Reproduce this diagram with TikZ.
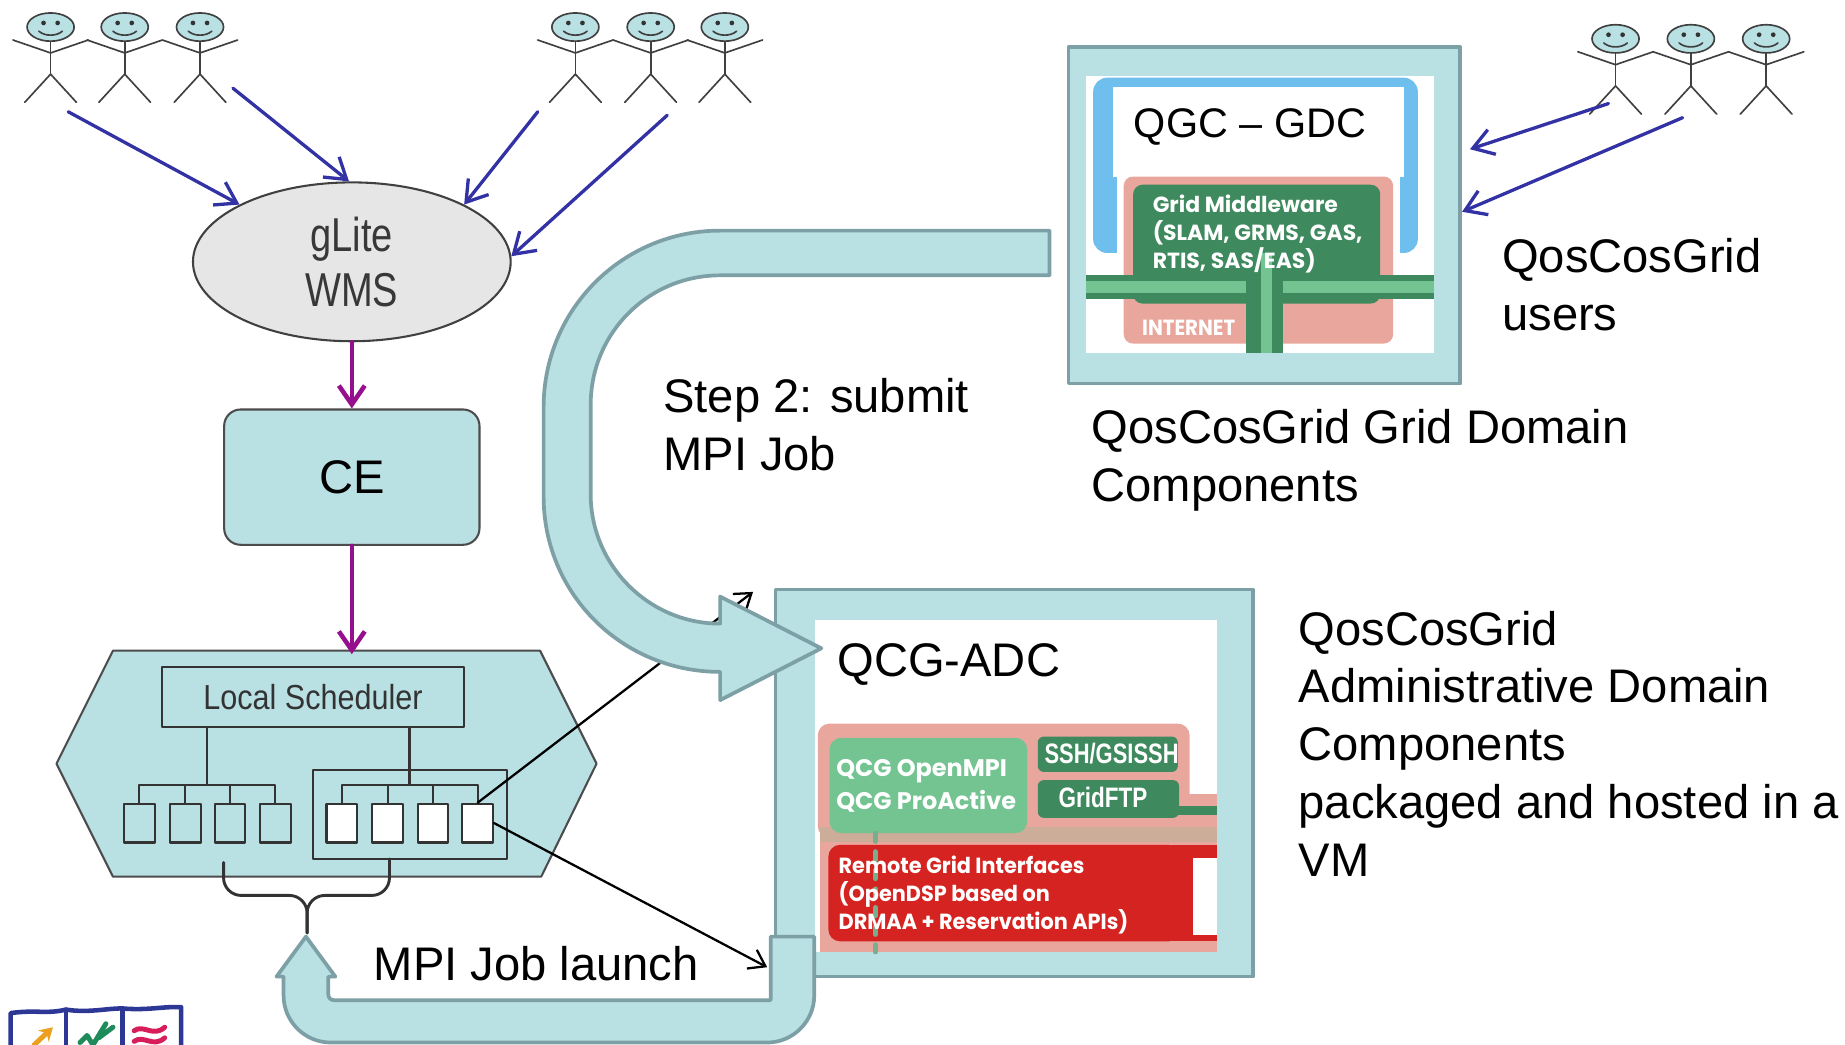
\documentclass[tikz,border=0pt]{standalone}
\usepackage{fontspec}
\setmainfont{Liberation Sans}
\newfontfamily\gothic{Poppins}
\usepackage{xcolor}
\usetikzlibrary{positioning,calc,shapes.geometric,arrows.meta}

\definecolor{qteal}{RGB}{185,224,227}
\definecolor{qtealedge}{RGB}{125,160,166}
\definecolor{wmsgray}{RGB}{230,230,230}
\definecolor{userblue}{RGB}{50,50,165}
\definecolor{jobpurple}{RGB}{150,15,140}
\definecolor{skyblue}{RGB}{110,190,238}
\definecolor{salmon}{RGB}{232,166,156}
\definecolor{darkgreen}{RGB}{62,138,94}
\definecolor{lightgreen}{RGB}{116,196,146}
\definecolor{gridred}{RGB}{212,35,32}
\definecolor{logoblue}{RGB}{45,55,150}
\definecolor{logoorange}{RGB}{235,160,30}
\definecolor{logogreen}{RGB}{30,140,90}
\definecolor{logored}{RGB}{215,30,90}

\begin{document}
\begin{tikzpicture}[x=0.1mm, y=-0.1mm, line cap=round, line join=round]
	\useasboundingbox (0,0) rectangle (1568,888);
	
	% ===== style =====
	\tikzset{
		figline/.style={draw=black!75, line width=0.4pt},
		userarrow/.style={draw=userblue, line width=0.8pt, -{Straight Barb[length=1.7mm, width=2.2mm]}},
		jobarrow/.style={draw=jobpurple, line width=1.1pt, -{Straight Barb[length=1.6mm, width=2.2mm]}},
		mpiarrow/.style={draw=black, line width=0.55pt, -{Straight Barb[length=1.3mm, width=1.8mm]}},
		treeline/.style={draw=black!80, line width=0.5pt},
		tealbox/.style={fill=qteal, draw=black!70, line width=0.5pt},
		qframe/.style={fill=qteal, draw=qtealedge, line width=0.9pt, inner sep=0pt},
		fatarrow/.style={fill=qteal, draw=qtealedge, line width=0.9pt},
		cpu/.style={draw=black!80, line width=0.5pt, minimum width=2.6mm, minimum height=3.3mm, inner sep=0pt},
		% neo = duong co so cua dong cuoi
		lbl/.style={font=\fontsize{11.4}{14}\selectfont, align=left, inner sep=0pt, anchor=base west},
		imgtxt/.style={text=white, font=\gothic\bfseries\fontsize{5.3}{6.8}\selectfont, align=left, inner sep=0pt, anchor=base west},
		condtxt/.style={text=white, font=\bfseries\fontsize{6.8}{8}\selectfont, inner sep=0pt, anchor=base west}
	}
	
	% ===== khung QGC - GDC =====
	\node[qframe, minimum width=33.3mm, minimum height=28.6mm] (gdc) at (1074.5,183) {};
	\fill[white] (923,65) rectangle (1219,300);
	\fill[skyblue, rounded corners=1.2mm] (929,66) rectangle (1205,215);
	\fill[white] (946,74) rectangle (1193,150);
	\fill[white] (949,150) rectangle (1190,215);
	\fill[salmon, rounded corners=0.8mm] (955,150) rectangle (1184,292);
	\fill[darkgreen, rounded corners=0.8mm] (963,157) rectangle (1173,258);
	% duong mang
	\fill[darkgreen] (923,234) rectangle (1219,254);
	\fill[lightgreen] (923,239) rectangle (1219,249);
	\fill[darkgreen] (1059,230) rectangle (1090,300);
	\fill[lightgreen] (1072,215) rectangle (1081,300);
	\node[lbl, font=\fontsize{10}{12}\selectfont] (gdctitle) at (963,116.5) {QGC – GDC};
	\node[imgtxt] (mw) at (979,228) {Grid Middleware\\(SLAM, GRMS, GAS,\\RTIS, SAS/EAS)};
	\node[imgtxt] (net) at (970,285) {\scalebox{0.9}[1]{INTERNET}};
	
	% ===== khung QCG-ADC =====
	\node[qframe, minimum width=40.6mm, minimum height=32.9mm] (adc) at (862,665.5) {};
	\fill[white] (693,527) rectangle (1034,809);
	\fill[salmon, rounded corners=1mm] (695,615) rectangle (1011,712);
	\fill[salmon] (990,675) rectangle (1034,712);
	\fill[salmon] (697,712) rectangle (1034,809);
	\fill[salmon!75!lightgreen] (697,703) rectangle (1034,716);
	\fill[lightgreen, rounded corners=1mm] (705,627) rectangle (873,708);
	\fill[darkgreen, rounded corners=0.5mm] (882,626) rectangle (1001,656);
	\fill[darkgreen, rounded corners=0.5mm] (882,663) rectangle (1002,695);
	\fill[darkgreen] (995,685) rectangle (1034,693);
	\fill[gridred, rounded corners=1mm] (704,718) rectangle (1003,800);
	\fill[gridred] (995,718) rectangle (1034,800);
	\fill[white] (1014,729) rectangle (1034,795);
	\draw[lightgreen!70!gray, line width=1.2pt, dash pattern=on 2pt off 2.5pt] (744,708) -- (744,809);
	\node[imgtxt, font=\gothic\bfseries\fontsize{5.8}{8}\selectfont] (mpi) at (710,688) {QCG OpenMPI\\QCG ProActive};
	\node[condtxt] (ssh) at (887,649) {\scalebox{0.78}[1]{SSH/GSISSH}};
	\node[condtxt] (ftp) at (899,686) {\scalebox{0.8}[1]{GridFTP}};
	\node[imgtxt] (rgi) at (712,790) {\scalebox{0.95}[1]{Remote Grid Interfaces}\\\scalebox{0.95}[1]{(OpenDSP based on}\\\scalebox{0.95}[1]{DRMAA + Reservation APIs)}};
	\node[lbl] (adctitle) at (711,575) {QCG-ADC};
	
	% ===== nguoi dung =====
	\foreach \hx/\hy in {43/23,106/23,170/23,489/23,553/23,616/23,1373/33,1437/33,1501/33}{
		\begin{scope}[shift={(\hx,\hy)}]
			\draw[figline] (-32,11) -- (0,22) -- (32,11);
			\draw[figline] (0,12) -- (0,40);
			\draw[figline] (-22,64) -- (0,40) -- (22,64);
			\draw[figline, fill=qteal] (0,0) ellipse [x radius=20, y radius=12];
			\fill[black!80] (-6,-3.5) circle [radius=2];
			\fill[black!80] (6,-3.5) circle [radius=2];
			\draw[figline] (-10,3.5) .. controls (-5,8) and (5,8) .. (10,3.5);
		\end{scope}
	}
	
	% ===== gLite WMS, CE =====
	\node[ellipse, fill=wmsgray, draw=black!75, line width=0.5pt, minimum width=27mm, minimum height=13.5mm,
	inner sep=0pt, text=black!78, align=center, font=\fontsize{11.5}{13.2}\selectfont] (wms) at (299,222.5)
	{\scalebox{0.8}[1]{gLite}\\\scalebox{0.8}[1]{WMS}};
	\node[tealbox, rounded corners=1.4mm, minimum width=21.7mm, minimum height=11.5mm,
	font=\fontsize{11.4}{13.8}\selectfont] (ce) at (299,405.5) {CE};
	
	\coordinate (u1) at (58,95);
	\coordinate (u2) at (198,75);
	\coordinate (u3) at (457,95);
	\coordinate (u4) at (567,98);
	\coordinate (u5) at (1367,88);
	\coordinate (u6) at (1430,100);
	\draw[userarrow] (u1) -- (wms.153);
	\draw[userarrow] (u2) -- (wms.92);
	\draw[userarrow] (u3) -- (wms.27);
	\draw[userarrow] (u4) -- (wms.2);
	\draw[userarrow, shorten >=0.7mm] (u5) -- (gdc.east |- 0,129);
	\draw[userarrow] (u6) -- (gdc.east |- 0,180);
	
	% ===== Local Scheduler =====
	\draw[tealbox] (48,649) -- (96,553) -- (459,553) -- (507,649) -- (460,745) -- (96,745) -- cycle;
	\coordinate (lrms) at (299,556);
	\draw[jobarrow] (wms) -- (ce);
	\draw[jobarrow] (ce) -- (lrms);
	
	\node[draw=black!80, line width=0.5pt, minimum width=25.6mm, minimum height=5.1mm, inner sep=0pt,
	text=black!80, font=\fontsize{8.4}{9}\selectfont] (sched) at (266,592.5) {\scalebox{0.88}[1]{Local Scheduler}};
	\node[draw=black!80, line width=0.5pt, minimum width=16.5mm, minimum height=7.6mm, inner sep=0pt] (grp) at (348.5,692) {};
	
	\foreach \i/\x in {1/118.5,2/157.5,3/195.5,4/234}{
		\node[cpu] (c\i) at (\x,699.5) {};
	}
	\foreach \i/\x in {5/290.5,6/329.5,7/368,8/406}{
		\node[cpu, fill=white] (c\i) at (\x,699.5) {};
	}
	
	% cay noi
	\draw[treeline] (sched.south -| 176,0) -- (176,667);
	\draw[treeline] (c1.north) -- (c1.north |- 0,667) -- (c4.north |- 0,667) -- (c4.north);
	\foreach \i in {2,3}{
		\draw[treeline] (c\i.north) -- (c\i.north |- 0,667);
	}
	\draw[treeline] (sched.south -| 348,0) -- (348,667);
	\draw[treeline] (c5.north) -- (c5.north |- 0,667) -- (c8.north |- 0,667) -- (c8.north);
	\foreach \i in {6,7}{
		\draw[treeline] (c\i.north) -- (c\i.north |- 0,667);
	}
	
	% ngoac
	\draw[treeline, line width=0.7pt, rounded corners=1.5mm] (190,733) -- (190,761) -- (261,761) -- (261,793);
	\draw[treeline, line width=0.7pt, rounded corners=1.5mm] (331,730) -- (331,761) -- (261,761) -- (261,793);
	
	% ===== MPI =====
	\coordinate (hop1) at (640,503);
	\coordinate (hop2) at (652,822);
	\draw[mpiarrow] (c8.north) -- (hop1);
	\draw[mpiarrow] (c8.east) -- (hop2);
	
	% ===== mui ten lon =====
	\draw[fatarrow] (892,196) -- (612,196) .. controls (529,196) and (462,263) .. (462,346) -- (462,422)
	.. controls (462,505) and (529,571) .. (612,571) -- (612,595) -- (698,551) -- (612,507) -- (612,530)
	.. controls (551,530) and (502,480) .. (502,420) -- (502,344) .. controls (502,283) and (551,234) .. (612,234)
	-- (892,234) -- cycle;
	
	\draw[fatarrow] (692,796) -- (692,846) .. controls (692,868) and (674,886) .. (652,886) -- (281,886)
	.. controls (259,886) and (241,868) .. (241,846) -- (241,830) -- (235,830) -- (260,796) -- (285,830)
	-- (279,830) -- (279,845) .. controls (279,848) and (281,850) .. (284,850) -- (655,850) -- (655,796) -- cycle;
	
	% ===== nhan =====
	\node[lbl] (step) at (563,400) {Step 2: submit\\MPI Job};
	\node[lbl] (launch) at (317,833) {MPI Job launch};
	\node[lbl] (gdcnote) at (927,426) {QosCosGrid Grid Domain\\Components};
	\node[lbl] (users) at (1276,281) {QosCosGrid\\users};
	\node[lbl] (adcnote) at (1103,745) {QosCosGrid\\Administrative Domain\\Components\\packaged and hosted in a\\VM};
	
	% ===== logo =====
	\draw[logoblue, line width=1.1pt] (9,888) -- (9,861) .. controls (30,858) and (40,862) .. (56,858)
	.. controls (75,861) and (90,857) .. (104,857) .. controls (125,859) and (140,855) .. (154,856) -- (154,888);
	\draw[logoblue, line width=1.1pt] (56,858) -- (56,888);
	\draw[logoblue, line width=1.1pt] (104,857) -- (104,888);
	\draw[logoorange, line width=1.2pt, -{Stealth[length=1.1mm, width=1.3mm]}] (29,888) -- (45,873);
	\draw[logogreen, line width=1.2pt] (68,886) -- (74,880) -- (79,888) -- (90,870) (84,882) -- (96,873);
	\draw[logored, line width=1.2pt] (114,876) .. controls (122,870) and (130,882) .. (140,873)
	(114,885) .. controls (122,879) and (130,891) .. (140,882);
	
\end{tikzpicture}
\end{document}
